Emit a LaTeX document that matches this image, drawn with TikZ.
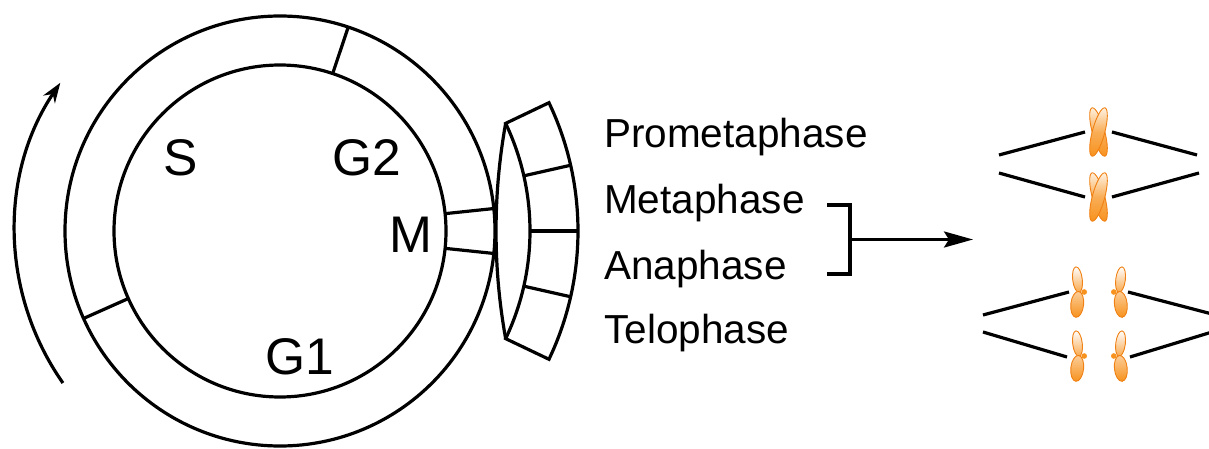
\documentclass[tikz,border=0pt]{standalone}
\usepackage{fontspec}
\setmainfont{Liberation Sans}
\usetikzlibrary{arrows.meta}
\definecolor{chromo}{RGB}{247,146,30}
\definecolor{chromolight}{RGB}{254,242,225}
\definecolor{chromoedge}{RGB}{240,128,18}
\begin{document}
\begin{tikzpicture}[x=1pt,y=1pt,
  line/.style={line width=3.2pt},
  phase/.style={anchor=base west,inner sep=0pt,font=\fontsize{40.5}{48}\selectfont},
  stage/.style={anchor=base west,inner sep=0pt,font=\fontsize{51.5}{60}\selectfont},
  armlight/.style={draw=chromoedge,line width=0.9pt,top color=white,bottom color=chromo!80!white},
  armdark/.style={draw=chromoedge,line width=0.9pt,top color=chromo!45!white,bottom color=chromo},
  xarm/.style={draw=chromoedge,line width=0.9pt,top color=chromolight,bottom color=chromo,middle color=chromo!75!white},
  xchrom/.pic={
    \path[xarm,rotate=15] (0,0) ellipse[x radius=6.2,y radius=25];
    \path[xarm,rotate=-15] (0,0) ellipse[x radius=6.2,y radius=25];
  },
  chromatid/.pic={
    \path[armlight,rotate=7] (0,12.5) ellipse[x radius=4.8,y radius=12.8];
    \path[armdark,rotate=-6] (-0.5,-12.5) ellipse[x radius=6.4,y radius=13];
    \fill[chromo] (5.2,0) circle[radius=2.8];
  }]
\useasboundingbox (0,0) rectangle (1209,448);

% cell cycle ring
\coordinate (c) at (280,217);
\draw[line] (c) circle[radius=215];
\draw[line] (c) circle[radius=166];
\foreach \a in {71.5,204,6,-6}
  \draw[line,shift={(c)}] (\a:166) -- (\a:215);

% mitosis sub-phases
\draw[line,shift={(c)}] (25.5:250) arc[start angle=25.5,end angle=-25.5,radius=250]
  -- (-25.5:298) arc[start angle=-25.5,end angle=25.5,radius=298] -- cycle;
\foreach \a in {12.75,0,-12.75}
  \draw[line,shift={(c)}] (\a:250) -- (\a:298);
\draw[line,shift={(c)}] (25.5:250) arc[start angle=169.8,end angle=190.2,radius=607.8];

% direction of the cycle
\draw[line,-{Stealth[length=20pt,width=14pt]}] (c) ++(215:265)
  arc[start angle=215,end angle=146,radius=265];

% phase labels
\node[stage] (S)  at (163,273) {S};
\node[stage] (G2) at (332,273) {G2};
\node[stage] (M)  at (389,196) {M};
\node[stage] (G1) at (265,74)  {G1};

\node[phase] (pro)  at (604,301) {Prometaphase};
\node[phase] (meta) at (604,235) {Metaphase};
\node[phase] (ana)  at (604,169) {Anaphase};
\node[phase] (telo) at (604,105) {Telophase};

% bracket and arrow
\coordinate (bt) at (827,243);
\coordinate (bj) at (850,243);
\coordinate (bb) at (850,174);
\coordinate (bl) at (827,174);
\coordinate (bm) at (850,208.5);
\coordinate (tip) at (973,208.5);
\draw[line] (bt) -- (bj) -- (bb) -- (bl);
\draw[line,-{Stealth[length=29pt,width=16pt,inset=5pt]}] (bm) -- (tip);

% metaphase spindle
\draw[line] (999,293) -- (1085,316);
\draw[line] (1112,316) -- (1197,293);
\draw[line] (999,275) -- (1085,251);
\draw[line] (1112,251) -- (1199,275);
\pic at (1098.5,316) {xchrom};
\pic at (1098.5,251) {xchrom};

% anaphase spindle
\draw[line] (983,133) -- (1069,156);
\draw[line] (1128,156) -- (1212,134);
\draw[line] (983,116) -- (1067,91);
\draw[line] (1130,91) -- (1212,116);
\pic at (1079,156) {chromatid};
\pic at (1079,92) {chromatid};
\pic[xscale=-1] at (1119,156) {chromatid};
\pic[xscale=-1] at (1119,92) {chromatid};
\end{tikzpicture}
\end{document}
